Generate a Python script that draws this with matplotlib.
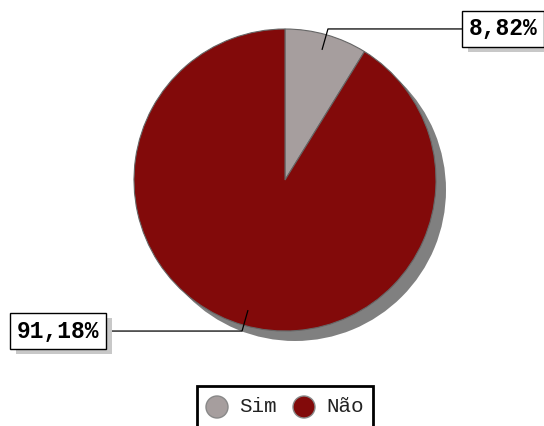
import numpy as np
import matplotlib
matplotlib.use('Agg')
import matplotlib.pyplot as plt
from matplotlib.patches import Rectangle, Circle

# data
labels = ['Sim', 'Não']
values = [8.82, 91.18]
colors = ['#a69e9e', '#820a0a']

W, H = 544, 426
fig = plt.figure(figsize=(W / 100, H / 100), dpi=100)
ax = fig.add_axes([0, 0, 1, 1])

cx, cy, r = 285, H - 180, 151

# shadow of the pie
ax.pie([1], colors=['#808080'], center=(cx + 10, cy - 10), radius=r,
       wedgeprops=dict(linewidth=0))
wedges, _ = ax.pie(values, colors=colors, startangle=90, counterclock=False,
                   center=(cx, cy), radius=r,
                   wedgeprops=dict(edgecolor='#666666', linewidth=0.8))

ax.set_xlim(0, W)
ax.set_ylim(0, H)
ax.set_aspect('equal')
ax.axis('off')

mono_bold = dict(family='Liberation Mono', fontweight='bold', fontsize=16.5)

# labels with leader lines
box_x = [503, 58]   # box centre x (pixels)
boxes = []
for w, v, bx in zip(wedges, values, box_x):
    mid = np.deg2rad((w.theta1 + w.theta2) / 2)
    x0, y0 = cx + 0.9 * r * np.cos(mid), cy + 0.9 * r * np.sin(mid)
    x1, y1 = cx + 1.04 * r * np.cos(mid), cy + 1.04 * r * np.sin(mid)
    ax.plot([x0, x1, bx], [y0, y1, y1], color='black', lw=0.9, zorder=5)
    txt = f'{v:.2f}'.replace('.', ',') + '%'
    t = ax.text(bx, y1, txt, ha='center', va='center', color='black',
                bbox=dict(boxstyle='square,pad=0.28', fc='white', ec='black', lw=1),
                zorder=7, **mono_bold)
    boxes.append(t)

# grey shadows behind the label boxes
fig.canvas.draw()
inv = ax.transData.inverted()
for t in boxes:
    ext = t.get_bbox_patch().get_window_extent()
    (ax0, ay0), (ax1, ay1) = inv.transform([[ext.x0, ext.y0], [ext.x1, ext.y1]])
    ax.add_patch(Rectangle((ax0 + 6, ay0 - 5), ax1 - ax0, ay1 - ay0,
                           fc='#c8c8c8', ec='none', zorder=6))

# legend (drawn by hand, cut off at the bottom)
ax.add_patch(Rectangle((197, -10), 176, H - 386 + 10, fc='white', ec='black',
                       lw=2, zorder=3))
leg_x = [217, 304]
for lx, lab, c in zip(leg_x, labels, colors):
    ax.add_patch(Circle((lx, H - 407), 11, fc=c, ec='#888888', lw=1, zorder=4))
    ax.text(lx + 22, H - 407, lab, ha='left', va='center', family='Liberation Mono',
            fontsize=15, color='#222222', zorder=4)

fig.savefig('out.png', dpi=100)
